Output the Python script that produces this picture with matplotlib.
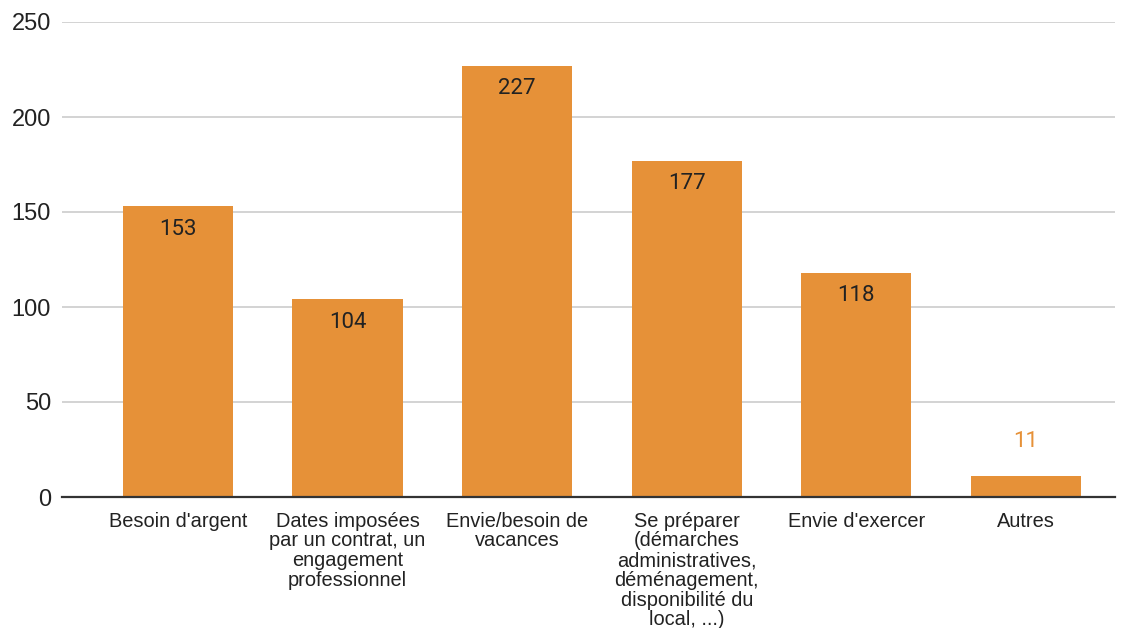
import matplotlib.pyplot as plt

categories = [
    "Besoin d'argent",
    "Dates imposées\npar un contrat, un\nengagement\nprofessionnel",
    "Envie/besoin de\nvacances",
    "Se préparer\n(démarches\nadministratives,\ndéménagement,\ndisponibilité du\nlocal, ...)",
    "Envie d'exercer",
    "Autres",
]
values = [153, 104, 227, 177, 118, 11]
yticks = [0, 50, 100, 150, 200, 250]

BAR = '#e69138'

fig = plt.figure(figsize=(11.3, 6.28), dpi=100)
ax = fig.add_axes([62 / 1130, 131 / 628, 1053 / 1130, 475 / 628])

x = list(range(len(categories)))
ax.bar(x, values, width=0.65, color=BAR, zorder=2)

ax.set_xlim(-0.684, 5.525)
ax.set_ylim(0, 250)
ax.set_yticks(yticks)
ax.grid(axis='y', color='#cccccc', linewidth=1.2, zorder=0)
ax.set_axisbelow(True)
for s in ['top', 'right', 'left']:
    ax.spines[s].set_visible(False)
ax.spines['bottom'].set_color('#333333')
ax.spines['bottom'].set_linewidth(1.6)
ax.spines['bottom'].set_zorder(3)

ax.tick_params(axis='y', length=0, pad=8, labelcolor='#222222')
ax.tick_params(axis='x', length=0, pad=10.5)
ax.set_yticklabels([str(t) for t in yticks], family='Liberation Sans', fontsize=17)
ax.set_xticks(x)
ax.set_xticklabels(categories, family='Liberation Sans', fontsize=14.4,
                   color='#222222', linespacing=1.05, va='top')

for xi, v in zip(x, values):
    if v > 30:
        ax.annotate(str(v), (xi, v), xytext=(0, -23), textcoords='offset pixels',
                    ha='center', va='center', fontsize=16, family='Roboto',
                    color='#222222')
    else:
        ax.annotate(str(v), (xi, v), xytext=(0, 35), textcoords='offset pixels',
                    ha='center', va='center', fontsize=16, family='Roboto',
                    color=BAR)

fig.savefig('out.png', dpi=100)
